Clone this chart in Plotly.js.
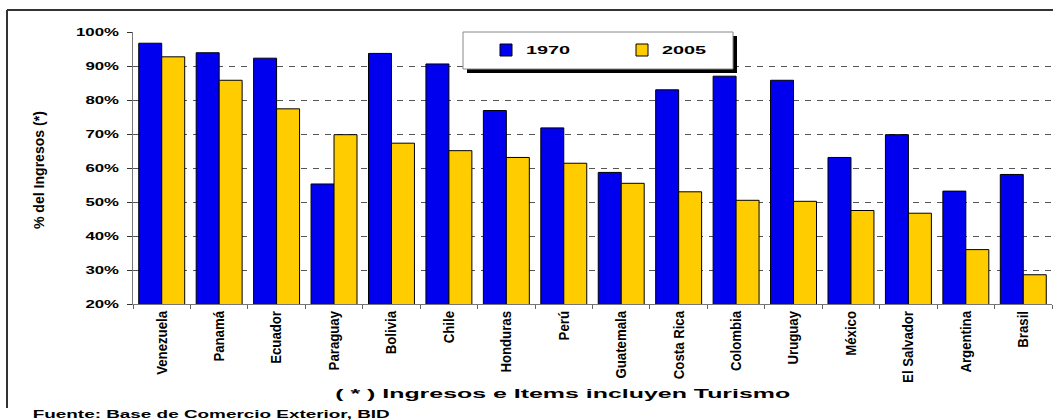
<!DOCTYPE html>
<html>
<head>
<meta charset="utf-8">
<script src="https://cdn.plot.ly/plotly-3.0.1.min.js"></script>
<style>
  html, body { margin: 0; padding: 0; background: #ffffff; }
  #chart { width: 1053px; height: 420px; }
</style>
</head>
<body>
<div id="chart"></div>
<script>
const countries = ['Venezuela','Panamá','Ecuador','Paraguay','Bolivia','Chile','Honduras','Perú','Guatemala','Costa Rica','Colombia','Uruguay','México','El Salvador','Argentina','Brasil'];
const series1970 = [96.7, 93.9, 92.3, 55.3, 93.7, 90.6, 76.9, 71.8, 58.7, 83.0, 87.0, 85.8, 63.1, 69.8, 53.2, 58.1];
const series2005 = [92.7, 85.8, 77.4, 69.8, 67.3, 65.1, 63.1, 61.4, 55.5, 53.0, 50.5, 50.2, 47.5, 46.7, 36.0, 28.6];
const seriesNames = ['1970', '2005'];
const yTickVals = [20, 30, 40, 50, 60, 70, 80, 90, 100];
const yTickText = ['20%', '30%', '40%', '50%', '60%', '70%', '80%', '90%', '100%'];
const yTitle = '% del Ingresos (*)';
const xTitle = '( * ) Ingresos e Items incluyen Turismo';
const sourceNote = 'Fuente: Base de Comercio Exterior, BID';

const FONT = 'Liberation Sans, Arial, sans-serif';

// pixel -> paper helpers (plot area: x 133..1052, y 32..304)
const L = 133, R = 1052, T = 32, B = 304;
const px = x => (x - L) / (R - L);
const py = y => (B - y) / (B - T);

const traces = [
  { type: 'bar', name: seriesNames[0], x: countries, y: series1970,
    marker: { color: '#0000EE', line: { color: '#000000', width: 1 } }, hoverinfo: 'skip' },
  { type: 'bar', name: seriesNames[1], x: countries, y: series2005,
    marker: { color: '#FFCC00', line: { color: '#000000', width: 1 } }, hoverinfo: 'skip' }
];

const layout = {
  width: 1053, height: 420,
  margin: { l: L, r: 1053 - R, t: T, b: 420 - B, pad: 0 },
  paper_bgcolor: '#ffffff', plot_bgcolor: '#ffffff',
  barmode: 'group', bargap: 0.2, bargroupgap: 0,
  showlegend: true,
  legend: {
    orientation: 'h', x: px(486), y: py(50), xanchor: 'left', yanchor: 'middle',
    bgcolor: 'rgba(0,0,0,0)', borderwidth: 0,
    entrywidth: 91, entrywidthmode: 'pixels',
    font: { family: FONT, size: 11, color: '#000', weight: 700 }
  },
  xaxis: {
    type: 'category', tickson: 'boundaries', ticks: 'outside', ticklen: 4, tickcolor: '#666',
    showline: true, linecolor: '#777', linewidth: 1, showgrid: false,
    tickangle: -90, tickfont: { family: FONT, size: 15, color: '#000', weight: 700 },
    fixedrange: true
  },
  yaxis: {
    range: [20, 100], tickmode: 'array', tickvals: yTickVals, ticktext: yTickText,
    ticks: 'outside', ticklen: 5, tickcolor: '#333', ticklabelstandoff: 6,
    showline: true, linecolor: '#777', linewidth: 1,
    showgrid: true, gridcolor: '#555', gridwidth: 1, griddash: '6px,6px',
    zeroline: false,
    tickfont: { family: FONT, size: 10, color: '#000', weight: 700 },
    fixedrange: true
  },
  shapes: [
    // outer frame (top + left)
    { type: 'line', xref: 'paper', yref: 'paper', x0: px(7), x1: px(1053), y0: py(10), y1: py(10), line: { color: '#333', width: 2 } },
    { type: 'line', xref: 'paper', yref: 'paper', x0: px(7), x1: px(7), y0: py(10), y1: py(408), line: { color: '#333', width: 2 } },
    // legend shadow + box
    { type: 'rect', xref: 'paper', yref: 'paper', layer: 'above', x0: px(467), x1: px(737), y0: py(73), y1: py(36), fillcolor: '#000', line: { width: 0 } },
    { type: 'rect', xref: 'paper', yref: 'paper', layer: 'above', x0: px(463), x1: px(733), y0: py(69), y1: py(32), fillcolor: '#fff', line: { color: '#888', width: 1 } }
  ],
  annotations: [
    { xref: 'paper', yref: 'paper', x: px(38), y: py(170), text: yTitle, textangle: -90, showarrow: false,
      xanchor: 'center', yanchor: 'middle', font: { family: FONT, size: 15, color: '#000', weight: 700 } },
    { xref: 'paper', yref: 'paper', x: px(562), y: py(393), text: xTitle, showarrow: false,
      xanchor: 'center', yanchor: 'middle', font: { family: FONT, size: 13, color: '#000', weight: 700 } },
    { xref: 'paper', yref: 'paper', x: px(211), y: py(414), text: sourceNote, showarrow: false,
      xanchor: 'center', yanchor: 'middle', font: { family: FONT, size: 10.5, color: '#000', weight: 700 } }
  ]
};

function stretchBy(nodes, k) {
  nodes.forEach(n => {
    if (n.getAttribute('data-stretched')) return;
    const w = n.getComputedTextLength();
    n.setAttribute('textLength', (w * k).toFixed(1));
    n.setAttribute('lengthAdjust', 'spacingAndGlyphs');
    n.setAttribute('data-stretched', '1');
  });
}
function stretchTo(node, len) {
  if (!node) return;
  node.setAttribute('textLength', String(len));
  node.setAttribute('lengthAdjust', 'spacingAndGlyphs');
}

function applyStretch(gd) {
  stretchBy(Array.from(gd.querySelectorAll('.ytick text')), 1.68);
  stretchBy(Array.from(gd.querySelectorAll('.xtick text')), 0.88);
  stretchBy(Array.from(gd.querySelectorAll('.legendtext')), 1.8);
  const ann = gd.querySelectorAll('.annotation-text');
  stretchTo(ann[0], 118);
  stretchTo(ann[1], 455);
  stretchTo(ann[2], 357);
}

const gdEl = document.getElementById('chart');
Plotly.newPlot(gdEl, traces, layout, { displayModeBar: false, staticPlot: true }).then(gd => {
  applyStretch(gd);
  gd.on('plotly_afterplot', () => applyStretch(gd));
  setTimeout(() => applyStretch(gd), 100);
  setTimeout(() => applyStretch(gd), 400);
});
</script>
</body>
</html>
